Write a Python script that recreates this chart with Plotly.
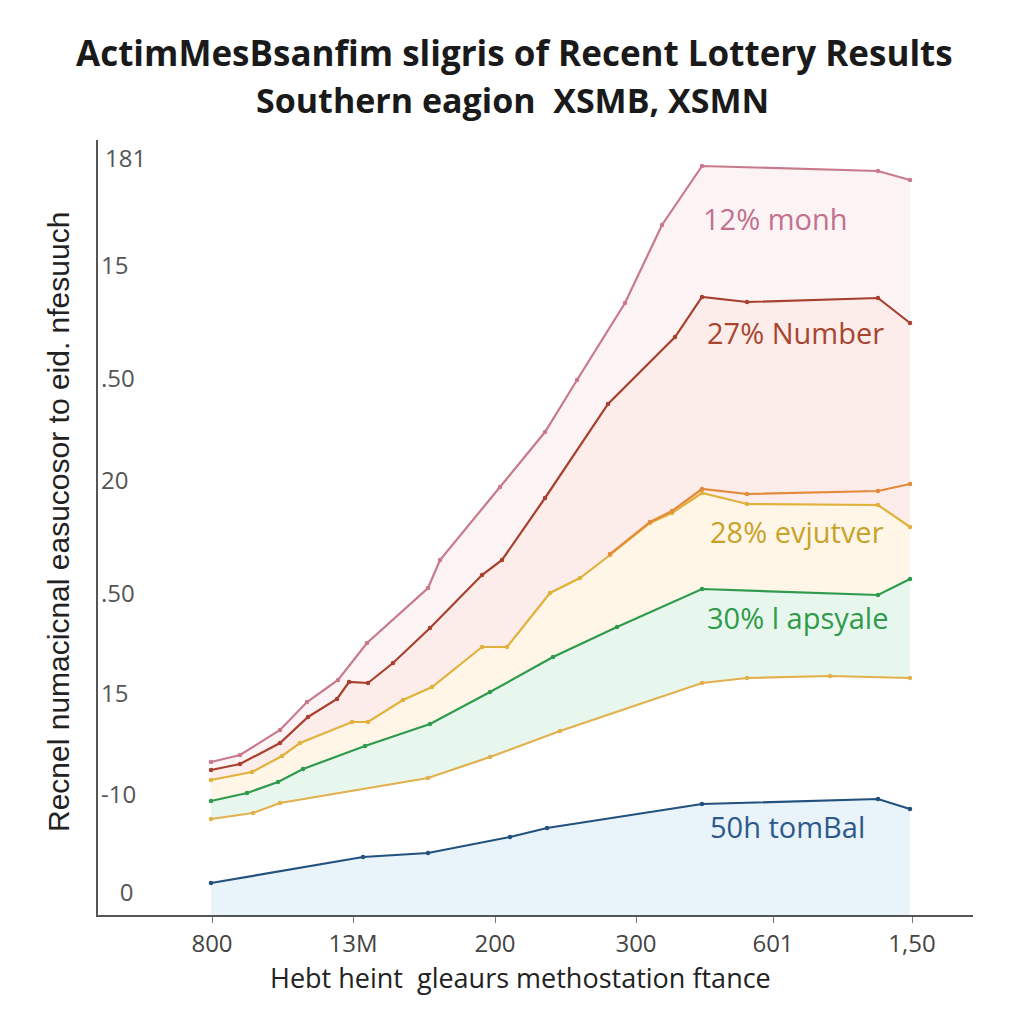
import plotly.graph_objects as go

# ---- data ----
pink_x = [211, 240, 280, 307, 338, 367, 428, 440, 500, 545, 577, 625, 662, 702, 878, 910]
pink_y = [153, 160, 185, 213, 235, 272, 327, 355, 428, 483, 535, 612, 690, 749, 744, 735]

red_x = [211, 240, 280, 308, 337, 349, 368, 393, 430, 482, 502, 545, 608, 675, 702, 747, 878, 910]
red_y = [145, 151, 172, 198, 216, 233, 232, 252, 287, 340, 355, 417, 511, 578, 618, 613, 617, 592]

yellow_x = [211, 252, 282, 300, 352, 368, 403, 432, 482, 507, 550, 580, 610, 650, 672, 702, 747, 878, 910]
yellow_y = [135, 143, 159, 172, 193, 193, 215, 228, 268, 268, 322, 337, 360, 392, 402, 422, 411, 410, 388]

orange_x = [610, 650, 672, 702, 747, 878, 910]
orange_y = [361, 393, 404, 426, 421, 424, 431]

green_x = [211, 247, 278, 303, 365, 430, 490, 553, 617, 702, 878, 910]
green_y = [114, 122, 133, 146, 169, 191, 223, 258, 288, 326, 320, 336]

low_x = [211, 253, 280, 428, 490, 560, 702, 747, 830, 910]
low_y = [96, 102, 112, 137, 158, 184, 232, 237, 239, 237]

blue_x = [211, 363, 428, 510, 547, 702, 878, 910]
blue_y = [32, 58, 62, 78, 87, 111, 116, 106]

x_tick_vals = [212, 353, 495, 636, 773, 912]
x_tick_text = ["800", "13M", "200", "300", "601", "1,50"]
y_tick_vals = [649, 536, 434, 321, 221, 120, 22]
y_tick_text = ["15", ".50", "20", ".50", "15", "-10", "\u00a0\u00a0\u00a00"]
y_top_val = 758
y_top_text = "181"

labels = ["12% monh", "27% Number", "28% evjutver", "30% l apsyale", "50h tomBal"]
label_x = [775, 795, 797, 797, 787]
label_y = [697, 583, 384, 298, 89]
label_col = ["#c2708e", "#a8452f", "#c9a22a", "#2e9a4a", "#2d5a8a"]

title1 = "ActimMesBsanfim sligris of Recent Lottery Results"
title2 = "Southern eagion  XSMB, XSMN"
x_title = "Hebt heint  gleaurs methostation ftance"
y_title = "Recnel numacicnal easucosor to eid. nfesuuch"

fig = go.Figure()

def add(x, y, color, fill, fillcolor=None):
    fig.add_trace(go.Scatter(
        x=x, y=y, mode="lines+markers",
        line=dict(color=color, width=2.2),
        marker=dict(color=color, size=4.5),
        fill=fill, fillcolor=fillcolor, showlegend=False, hoverinfo="skip"))

add(blue_x, blue_y, "#23517e", "tozeroy", "rgba(205,228,243,0.45)")
add(low_x, low_y, "#e2b04c", "none")
add(green_x, green_y, "#2f9a4c", "tonexty", "rgba(205,238,218,0.45)")
add(yellow_x, yellow_y, "#e0b23c", "tonexty", "rgba(255,236,205,0.45)")
add(red_x, red_y, "#a8402f", "tonexty", "rgba(245,200,195,0.35)")
add(pink_x, pink_y, "#c87a8c", "tonexty", "rgba(245,215,220,0.3)")
add(orange_x, orange_y, "#e38a3c", "none")

for t, x, y, c in zip(labels, label_x, label_y, label_col):
    fig.add_annotation(x=x, y=y, text=t, showarrow=False, xanchor="center", yanchor="middle",
                       font=dict(family="Open Sans", size=29, color=c))

# top y tick label (kept as annotation so it is not clipped at the plot edge)
fig.add_annotation(xref="x", yref="y", x=103, y=y_top_val, text=y_top_text, showarrow=False,
                   xanchor="left", yanchor="middle",
                   font=dict(family="Open Sans", size=24, color="#555"))

def pa(text, px, py, size, family, color, angle=0):
    fig.add_annotation(xref="paper", yref="paper", x=(px - 98) / 875, y=(915 - py) / 775,
                       xanchor="center", yanchor="middle", text=text, showarrow=False,
                       textangle=angle, font=dict(family=family, size=size, color=color))

pa("<b>" + title1 + "</b>", 514, 53, 35, "Open Sans", "#1a1a1a")
pa("<b>" + title2 + "</b>", 512, 100, 34, "Open Sans", "#1a1a1a")
pa(x_title, 520, 977, 27, "Open Sans", "#222")
pa(y_title, 58, 522, 30, "Liberation Sans", "#222", -90)

fig.update_layout(
    width=1024, height=1024,
    margin=dict(l=98, r=51, t=140, b=109),
    plot_bgcolor="white", paper_bgcolor="white",
    xaxis=dict(range=[98, 973], showgrid=False, zeroline=False, showline=True,
               linecolor="#555", linewidth=1.5, tickvals=x_tick_vals, ticktext=x_tick_text,
               ticks="outside", ticklen=6, tickcolor="#777",
               tickfont=dict(family="Open Sans", size=24, color="#444")),
    yaxis=dict(range=[0, 775], showgrid=False, zeroline=False, showline=True,
               linecolor="#555", linewidth=1.5, tickvals=y_tick_vals, ticktext=y_tick_text,
               ticks="", ticklabelposition="inside", ticklabelstandoff=5,
               tickfont=dict(family="Open Sans", size=24, color="#555")),
)

fig.write_html("out.html")
